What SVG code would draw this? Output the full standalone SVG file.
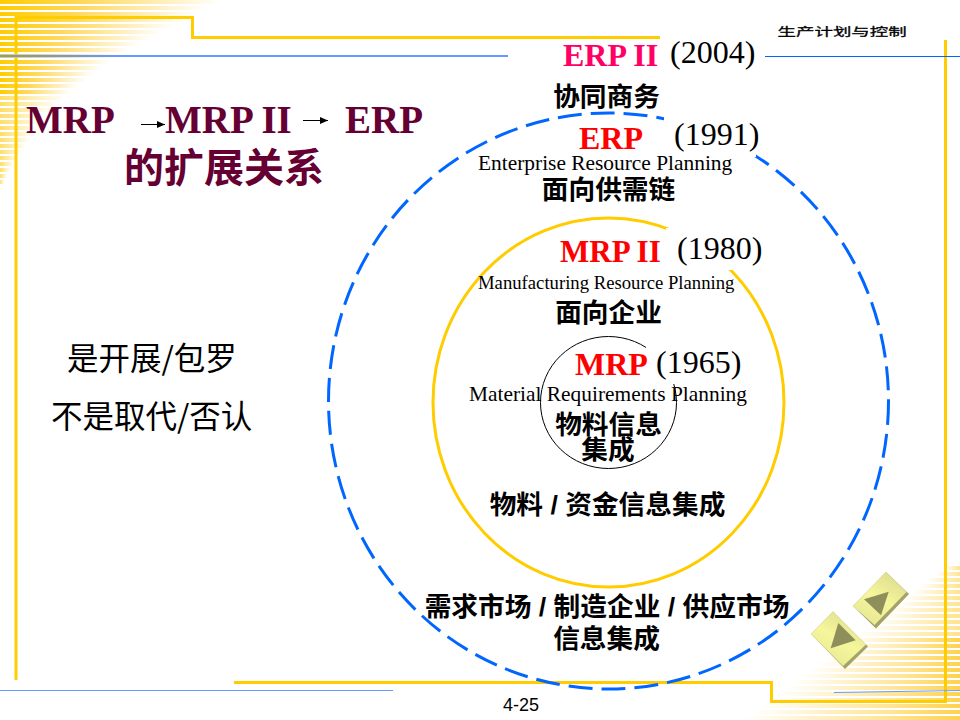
<svg xmlns="http://www.w3.org/2000/svg" width="960" height="720" viewBox="0 0 960 720">
<defs>
<linearGradient id="tl"><stop offset="0" stop-color="#FFCC00"/><stop offset="0.4" stop-color="#FFD960"/><stop offset="1" stop-color="#FFFFFF"/></linearGradient>
<linearGradient id="tl2"><stop offset="0" stop-color="#FFDD66"/><stop offset="0.5" stop-color="#FFEFB0"/><stop offset="1" stop-color="#FFFFFF"/></linearGradient>
<linearGradient id="br"><stop offset="0" stop-color="#FFFFFF"/><stop offset="0.65" stop-color="#FFE596"/><stop offset="1" stop-color="#FFD24D"/></linearGradient>
<linearGradient id="br2"><stop offset="0" stop-color="#FFFFFF"/><stop offset="1" stop-color="#FFE48F"/></linearGradient>
<linearGradient id="face" x1="0.8" y1="0" x2="0.2" y2="1"><stop offset="0" stop-color="#DADA8E"/><stop offset="0.5" stop-color="#F6F69C"/><stop offset="1" stop-color="#E6E695"/></linearGradient>
<marker id="ah" markerWidth="9" markerHeight="8" refX="8" refY="3.500" orient="auto" markerUnits="userSpaceOnUse"><path d="M0,0 L8,3.500 L0,7 Z" fill="#000"/></marker>
</defs>
<style>
.s{font-family:"Liberation Serif","Noto Sans CJK SC",serif}
.b{font-weight:bold}
.c{font-family:"Liberation Sans","Noto Sans CJK SC",sans-serif;font-weight:bold;font-size:26.7px;fill:#000;text-anchor:middle}
.y{font-size:32px;fill:#000}
.d{font-size:21.4px;fill:#000}
.r{font-size:32px;font-weight:bold;fill:#FF0000}
.t{font-size:39px;font-weight:bold;fill:#660033}
.k{font-family:"Noto Sans CJK SC","Liberation Sans",sans-serif;font-size:31.5px;fill:#000}
.gl{fill:none;stroke:#FFCC00;stroke-width:3}
.st rect{height:4px}
</style>
<rect width="960" height="720" fill="#fff"/>
<g id="stripes-top-left" class="st" fill="url(#tl)">
<rect x="0" y="0" width="220"/><rect x="0" y="6" width="208"/><rect x="0" y="12" width="197"/><rect x="0" y="18" width="186"/><rect x="0" y="24" width="174"/><rect x="0" y="30" width="163"/><rect x="0" y="36" width="152"/><rect x="0" y="42" width="140"/><rect x="0" y="48" width="130"/><rect x="0" y="54" width="120"/><rect x="0" y="60" width="110"/><rect x="0" y="66" width="102"/><rect x="0" y="72" width="94"/><rect x="0" y="78" width="86"/><rect x="0" y="84" width="78"/><rect x="0" y="90" width="70"/>
</g>
<g id="stripes-top-left-pale" class="st" fill="url(#tl2)">
<rect x="0" y="96" width="64"/><rect x="0" y="102" width="58"/><rect x="0" y="108" width="52"/><rect x="0" y="114" width="46"/><rect x="0" y="120" width="42"/><rect x="0" y="126" width="38"/><rect x="0" y="132" width="34"/><rect x="0" y="138" width="30"/><rect x="0" y="144" width="26"/><rect x="0" y="150" width="22"/><rect x="0" y="156" width="18"/><rect x="0" y="162" width="14"/><rect x="0" y="168" width="10"/><rect x="0" y="174" width="7"/><rect x="0" y="180" width="4"/>
</g>
<g id="stripes-bottom-right-pale" class="st" fill="url(#br2)">
<rect x="945" y="566" width="15"/><rect x="936" y="572" width="24"/><rect x="928" y="578" width="32"/><rect x="920" y="584" width="40"/><rect x="912" y="590" width="48"/><rect x="904" y="596" width="56"/><rect x="896" y="602" width="64"/><rect x="888" y="608" width="72"/><rect x="880" y="614" width="80"/><rect x="872" y="620" width="88"/><rect x="864" y="626" width="96"/><rect x="856" y="632" width="104"/>
</g>
<g id="stripes-bottom-right" class="st" fill="url(#br)">
<rect x="848" y="638" width="112"/><rect x="840" y="644" width="120"/><rect x="832" y="650" width="128"/><rect x="824" y="656" width="136"/><rect x="816" y="662" width="144"/><rect x="808" y="668" width="152"/><rect x="800" y="674" width="160"/><rect x="792" y="680" width="168"/><rect x="784" y="686" width="176"/><rect x="776" y="692" width="184"/><rect x="768" y="698" width="192"/><rect x="760" y="704" width="200"/><rect x="752" y="710" width="208"/><rect x="744" y="716" width="216"/>
</g>
<g id="frame">
<path class="gl" d="M16,680 V17.500 H192.500 V37.500 H660"/>
<path class="gl" d="M234,682.500 H771.500 V701.500 H945.500 V40"/>
<path d="M0,56 H508" stroke="#6699FF" stroke-width="2" fill="none"/>
<path d="M765,56.500 H960" stroke="#0066FF" stroke-width="1" fill="none"/>
<path d="M0,690.500 H393" stroke="#6699FF" stroke-width="1" fill="none"/>
<path d="M834,692.500 L960,690.500" stroke="#6699FF" stroke-width="1" fill="none"/>
</g>
<g id="rings">
<ellipse cx="608.500" cy="401" rx="280" ry="288" fill="none" stroke="#0066FF" stroke-width="3" stroke-dasharray="24 9"/>
<rect x="664" y="116" width="92" height="41" fill="#fff"/>
<ellipse cx="608.500" cy="402.500" rx="175.500" ry="184.500" fill="none" stroke="#FFCC00" stroke-width="3"/>
<rect x="666" y="228" width="66" height="42" fill="#fff"/>
<ellipse cx="608.500" cy="402.500" rx="68" ry="66" fill="none" stroke="#000" stroke-width="1"/>
<rect x="646" y="340" width="30" height="44" fill="#fff"/>
</g>
<g id="title">
<text class="s t" x="26" y="133">MRP</text>
<text class="s t" x="165" y="133">MRP II</text>
<text class="s t" x="345" y="133">ERP</text>
<text x="224" y="182" text-anchor="middle" font-family="Noto Sans CJK SC, sans-serif" font-weight="bold" font-size="40" fill="#660033">的扩展关系</text>
</g>
<g id="connectors">
<line x1="141" y1="124.500" x2="165" y2="124.500" stroke="#000" stroke-width="1" marker-end="url(#ah)"/>
<line x1="303" y1="120.500" x2="328" y2="120.500" stroke="#000" stroke-width="1" marker-end="url(#ah)"/>
</g>
<g id="note">
<text class="k" x="67" y="370">是开展/包罗</text>
<text class="k" x="51" y="428">不是取代/否认</text>
</g>
<g id="header"><text transform="translate(777.500 36) scale(1.32 0.85)" font-family="Noto Sans CJK SC, sans-serif" font-size="14" fill="#000" stroke="#000" stroke-width="0.3">生产计划与控制</text></g>
<g id="erp2">
<text class="s b" x="563" y="66" font-size="32" fill="#FF0066">ERP II</text>
<text class="s y" x="670" y="63">(2004)</text>
<text class="c" x="606.500" y="106">协同商务</text>
</g>
<g id="erp">
<text class="s r" x="579" y="149">ERP</text>
<text class="s y" x="674" y="145">(1991)</text>
<text class="s d" x="478" y="170">Enterprise Resource Planning</text>
<text class="c" x="608.500" y="199">面向供需链</text>
</g>
<g id="mrp2">
<text class="s r" x="560" y="262" style="font-size:31px">MRP II</text>
<text class="s y" x="677" y="259">(1980)</text>
<text class="s d" x="478" y="289" style="font-size:18.700px">Manufacturing Resource Planning</text>
<text class="c" x="608.500" y="322">面向企业</text>
</g>
<g id="mrp">
<text class="s r" x="575" y="375">MRP</text>
<text class="s y" x="656" y="373">(1965)</text>
<text class="s d" x="469" y="401">Material Requirements Planning</text>
<text class="c" x="608.500" y="434">物料信息</text>
<text class="c" x="608" y="459">集成</text>
</g>
<g id="outer-labels">
<text class="c" x="607.500" y="514">物料 / 资金信息集成</text>
<text class="c" x="607" y="616">需求市场 / 制造企业 / 供应市场</text>
<text class="c" x="606.500" y="648">信息集成</text>
</g>
<g id="nav-next">
<polygon points="886,572 909,594 876,628.500 853,606" fill="#A3A368"/>
<polygon points="886,572 906.500,592 874.500,625 853,606" fill="url(#face)"/>
<polygon points="888.700,591.700 864,599.300 881,615.300" fill="#8F8F5C"/>
</g>
<g id="nav-prev">
<polygon points="833,611.500 868,646.500 845,669 811,634" fill="#A3A368"/>
<polygon points="833,611.500 866,644.500 843,666 811,634" fill="url(#face)"/>
<polygon points="838.300,623 855.700,640.300 830.700,648.300" fill="#8F8F5C"/>
</g>
<text id="page" x="503" y="711" font-family="Liberation Sans, sans-serif" font-size="18" fill="#000">4-25</text>
</svg>
